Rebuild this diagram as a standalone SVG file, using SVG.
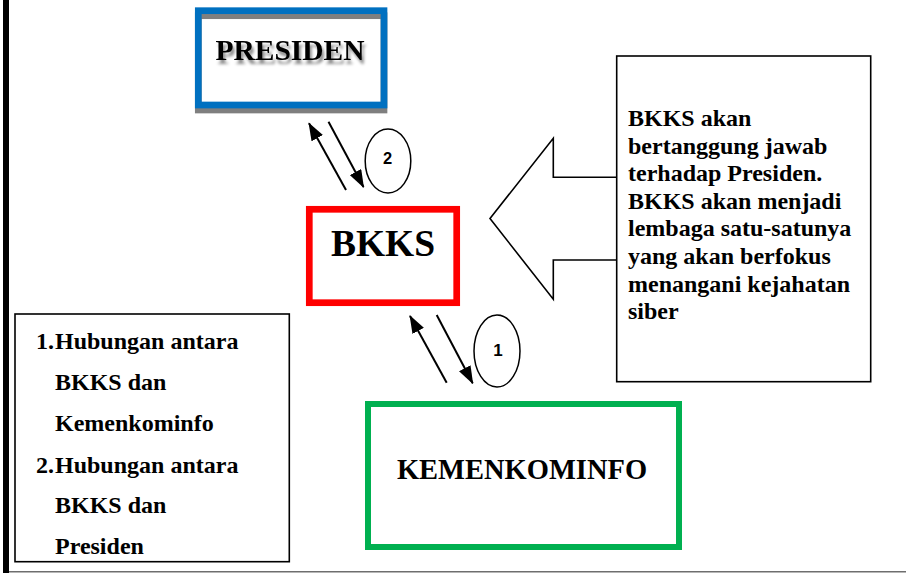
<svg xmlns="http://www.w3.org/2000/svg" width="906" height="573" viewBox="0 0 906 573">
<style>
  .serif { font-family: "Liberation Serif", "Times New Roman", serif; font-weight: bold; fill: #000; }
  .sans { font-family: "Liberation Sans", Arial, sans-serif; font-weight: bold; fill: #000; }
  .conn { stroke: #000; stroke-width: 2; fill: none; }
</style>
<defs>
  <marker id="ah" markerUnits="userSpaceOnUse" markerWidth="18" markerHeight="13" refX="17" refY="6.5" orient="auto">
    <path d="M0,0 L18,6.5 L0,13 z" fill="#000"/>
  </marker>
  <filter id="tshadow" x="-10%" y="-20%" width="130%" height="160%">
    <feGaussianBlur in="SourceAlpha" stdDeviation="1.6"/>
    <feOffset dx="2" dy="4" result="b"/>
    <feFlood flood-color="#000" flood-opacity="0.45"/>
    <feComposite in2="b" operator="in" result="s"/>
    <feMerge><feMergeNode in="s"/><feMergeNode in="SourceGraphic"/></feMerge>
  </filter>
</defs>
<rect x="0" y="0" width="906" height="573" fill="#fff"/>

<!-- page frame -->
<rect x="3" y="0" width="6" height="573" fill="#000"/>
<line x1="9" y1="571.8" x2="906" y2="571.8" stroke="#6e6e6e" stroke-width="1.4"/>

<g id="presiden">
  <rect x="198.3" y="15.7" width="185.7" height="94.3" fill="none" stroke="#7f7f7f" stroke-width="6.7"/>
  <rect x="198.3" y="10.7" width="185.7" height="94.3" fill="none" stroke="#0070C0" stroke-width="6.7"/>
  <text x="290" y="60" text-anchor="middle" class="serif" font-size="29.5" filter="url(#tshadow)">PRESIDEN</text>
</g>

<g id="bkks">
  <rect x="309.3" y="209.3" width="147.4" height="93.4" fill="none" stroke="#FF0000" stroke-width="6.7"/>
  <text x="383" y="256" text-anchor="middle" class="serif" font-size="37.5">BKKS</text>
</g>

<g id="kemenkominfo">
  <rect x="368" y="404" width="311" height="143" fill="none" stroke="#00B050" stroke-width="6"/>
  <text x="522" y="479.3" text-anchor="middle" class="serif" font-size="28.5">KEMENKOMINFO</text>
</g>

<g id="callout">
  <path d="M616.7,177.3 L553.3,177.3 L553.3,138.3 L490,218.5 L553.3,299.3 L553.3,260 L616.7,260" fill="none" stroke="#000" stroke-width="1.6"/>
  <rect x="616.7" y="56" width="254" height="325.7" fill="none" stroke="#000" stroke-width="1.6"/>
  <text class="serif" font-size="24">
    <tspan x="628" y="126">BKKS akan</tspan>
    <tspan x="628" y="153.6">bertanggung jawab</tspan>
    <tspan x="628" y="181.2">terhadap Presiden.</tspan>
    <tspan x="628" y="208.8">BKKS akan menjadi</tspan>
    <tspan x="628" y="236.4">lembaga satu-satunya</tspan>
    <tspan x="628" y="264">yang akan berfokus</tspan>
    <tspan x="628" y="291.6">menangani kejahatan</tspan>
    <tspan x="628" y="319.2">siber</tspan>
  </text>
</g>

<g id="legend">
  <rect x="15" y="314" width="274.3" height="247.7" fill="none" stroke="#000" stroke-width="1.6"/>
  <text class="serif" font-size="24">
    <tspan x="36" y="349.3">1.</tspan><tspan x="55" y="349.3">Hubungan antara</tspan>
    <tspan x="55" y="390.2">BKKS dan</tspan>
    <tspan x="55" y="431.1">Kemenkominfo</tspan>
    <tspan x="36" y="472.7">2.</tspan><tspan x="55" y="472.7">Hubungan antara</tspan>
    <tspan x="55" y="513.3">BKKS dan</tspan>
    <tspan x="55" y="554">Presiden</tspan>
  </text>
</g>

<g id="label-2">
  <ellipse cx="388" cy="161" rx="22.8" ry="32" fill="none" stroke="#000" stroke-width="1.5"/>
  <text x="387.5" y="163.5" text-anchor="middle" class="sans" font-size="16.5">2</text>
</g>

<g id="label-1">
  <ellipse cx="497" cy="351" rx="23" ry="36" fill="none" stroke="#000" stroke-width="1.5"/>
  <text x="498" y="355.5" text-anchor="middle" class="sans" font-size="17">1</text>
</g>

<g id="connectors">
  <line class="conn" x1="346" y1="190" x2="309" y2="123.3" marker-end="url(#ah)"/>
  <line class="conn" x1="328.5" y1="121.7" x2="363.5" y2="187" marker-end="url(#ah)"/>
  <line class="conn" x1="446.7" y1="382.7" x2="410" y2="316" marker-end="url(#ah)"/>
  <line class="conn" x1="436.7" y1="315" x2="472.7" y2="383.3" marker-end="url(#ah)"/>
</g>
</svg>
